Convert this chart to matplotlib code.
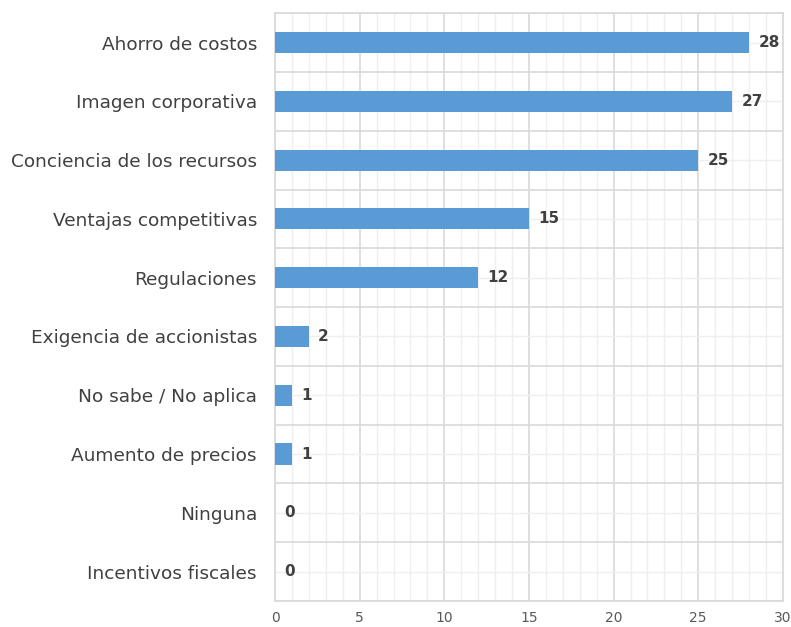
import matplotlib.pyplot as plt
import numpy as np

categories = ["Ahorro de costos", "Imagen corporativa", "Conciencia de los recursos",
              "Ventajas competitivas", "Regulaciones", "Exigencia de accionistas",
              "No sabe / No aplica", "Aumento de precios", "Ninguna", "Incentivos fiscales"]
values = [28, 27, 25, 15, 12, 2, 1, 1, 0, 0]

plt.rcParams['font.family'] = ['DejaVu Sans']

fig = plt.figure(figsize=(7.91, 6.27), dpi=100)
ax = fig.add_axes([0.3477, 0.0415, 0.642, 0.9375])

y = np.arange(len(categories))
ax.barh(y, values, height=0.36, color="#5B9BD5", zorder=3)

for yi, v in zip(y, values):
    ax.text(v + 0.55, yi, str(v), va="center", ha="left", fontsize=11,
            fontweight="bold", color="#404040", zorder=4)

ax.set_xlim(0, 30)
ax.set_ylim(len(categories) - 0.5, -0.5)
ax.set_xticks(range(0, 31, 5))
ax.set_xticks(range(0, 31), minor=True)
ax.set_yticks(y)
ax.set_yticklabels(categories)
ax.set_yticks(np.arange(-0.5, len(categories), 1), minor=True)

ax.grid(which="major", axis="x", color="#d9d9d9", linewidth=1.2, zorder=0)
ax.grid(which="minor", axis="x", color="#efefef", linewidth=1.0, zorder=0)
ax.grid(which="minor", axis="y", color="#d9d9d9", linewidth=1.2, zorder=0)
ax.grid(which="major", axis="y", color="#efefef", linewidth=1.0, zorder=0)

ax.tick_params(which="both", length=0)
ax.tick_params(axis="y", labelsize=13.3, labelcolor="#404040", pad=13)
ax.tick_params(axis="x", labelsize=10, labelcolor="#595959", pad=7)
for s in ax.spines.values():
    s.set_color("#d9d9d9")
    s.set_linewidth(1.2)

fig.savefig("out.png", dpi=100)
